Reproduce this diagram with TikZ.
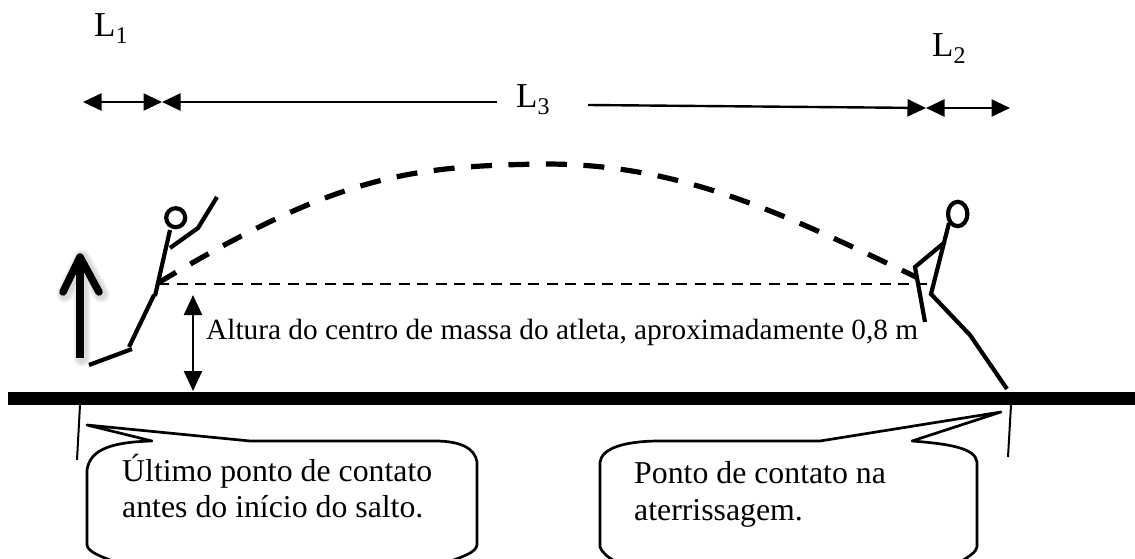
\documentclass[tikz,border=0pt]{standalone}
\usepackage{fontspec}
\setmainfont{Liberation Serif}
\usetikzlibrary{arrows.meta}
\newcommand{\subL}[1]{L\raisebox{-0.2em}{\fontsize{24pt}{24pt}\selectfont #1}}
\tikzset{
  figure/.style={line width=4.2pt,line cap=butt,line join=miter},
  dimboth/.style={line width=2.4pt,{Triangle[length=18.5pt,width=17pt]}-{Triangle[length=18.5pt,width=17pt]}},
  dimstart/.style={line width=2.4pt,{Triangle[length=18.5pt,width=17pt]}-},
  dimend/.style={line width=2.4pt,-{Triangle[length=18.5pt,width=17pt]}},
  callout/.style={line width=2.7pt,line join=round},
  lbl/.style={inner sep=0pt,font=\fontsize{31.8pt}{36pt}\selectfont,align=left,anchor=base west},
  sym/.style={inner sep=0pt,font=\fontsize{35pt}{38pt}\selectfont,anchor=base west},
  upshadow/.style={line width=#1,draw=black,opacity=0.05,line cap=round,line join=round}
}
\begin{document}
\begin{tikzpicture}[x=1pt,y=-1pt]
\useasboundingbox (0,0) rectangle (1135,559);
\clip (0,0) rectangle (1135,559);
% length labels
\node[sym] (l1) at (94,37) {\subL{1}};
\node[sym] (l2) at (932,57) {\subL{2}};
\node[sym] (l3) at (516,108) {\subL{3}};
% length arrows
\coordinate (a1) at (83,102); \coordinate (a2) at (162,102);
\coordinate (a3) at (497,102);
\coordinate (a4) at (588,105); \coordinate (a5) at (926,108); \coordinate (a6) at (1010,108);
\draw[dimboth] (a1) -- (a2);
\draw[dimstart] (a2) -- (a3);
\draw[dimend] (a4) -- (a5);
\draw[dimboth] (a5) -- (a6);
% trajectory
\coordinate (tk) at (158,283); \coordinate (top) at (545,164); \coordinate (ld) at (916,277);
\draw[line width=5.2pt,dash pattern=on 21pt off 16.5pt]
  (tk) .. controls (338,175) and (410,166) .. (top) .. controls (680,164) and (780,212) .. (ld);
\coordinate (h1) at (158,284); \coordinate (h2) at (927,284);
\draw[line width=2pt,dash pattern=on 11pt off 7.5pt] (h1) -- (h2);
% height arrow
\coordinate (b1) at (193,295); \coordinate (b2) at (193,391);
\draw[line width=2.4pt,{Triangle[length=20pt,width=18pt]}-{Triangle[length=20pt,width=18pt]}] (b1) -- (b2);
% ground
\fill (8,392) rectangle (1135,405);
% left figure
\draw[figure] (175.7,217.7) circle (9.5);
\draw[figure] (170,230) -- (155,296);
\draw[figure] (154,295) -- (129,347);
\draw[figure] (132,349) -- (89,365);
\draw[figure] (170,248) -- (198,228) -- (217,197);
% up arrow shadow
\foreach \w in {17pt,14pt,11pt}{
  \draw[upshadow=\w] (82,358) -- (82,258) (65,294) -- (82,258) -- (101,294);
}
\draw[line width=8pt,line cap=butt] (80,358) -- (80,258);
\draw[line width=7.5pt,line cap=round,line join=round] (63,292) -- (80,257) -- (99,292);
% right figure
\draw[figure] (957.7,214) ellipse (9.7 and 12.2);
\draw[figure] (949,223) -- (931,294);
\draw[figure] (930,293) -- (970,335) -- (1007,389);
\draw[figure] (945,242) -- (915,267) -- (925,322);
% ticks
\coordinate (t1) at (80,405); \coordinate (t2) at (77,460);
\coordinate (t3) at (1011,405); \coordinate (t4) at (1008,457);
\draw[line width=2pt] (t1) -- (t2);
\draw[line width=2pt] (t3) -- (t4);
% callouts
\draw[callout] (87,425) -- (152,441) .. controls (115,442) and (90,448) .. (87,470)
  -- (87,545) .. controls (88,552) and (100,556) .. (115,562) -- (448,562)
  .. controls (465,556) and (476,552) .. (477,545) -- (477,462)
  .. controls (475,448) and (460,441) .. (435,441) -- (250,441) -- cycle;
\draw[callout] (1001,412) -- (912,441) .. controls (950,444) and (975,448) .. (977,462)
  -- (977,547) .. controls (976,552) and (970,556) .. (960,562) -- (616,562)
  .. controls (606,556) and (602,552) .. (600,547) -- (600,462)
  .. controls (602,448) and (625,441) .. (660,441) -- (820,441) -- cycle;
% text
\node[lbl] (c1a) at (122,481) {Último ponto de contato};
\node[lbl] (c1b) at (122,517) {antes do início do salto.};
\node[lbl] (c2a) at (634,483) {Ponto de contato na};
\node[lbl] (c2b) at (634,520) {aterrissagem.};
\node[lbl,font=\fontsize{29.3pt}{30pt}\selectfont] (alt) at (206,339) {Altura do centro de massa do atleta, aproximadamente 0,8 m};
\end{tikzpicture}
\end{document}
